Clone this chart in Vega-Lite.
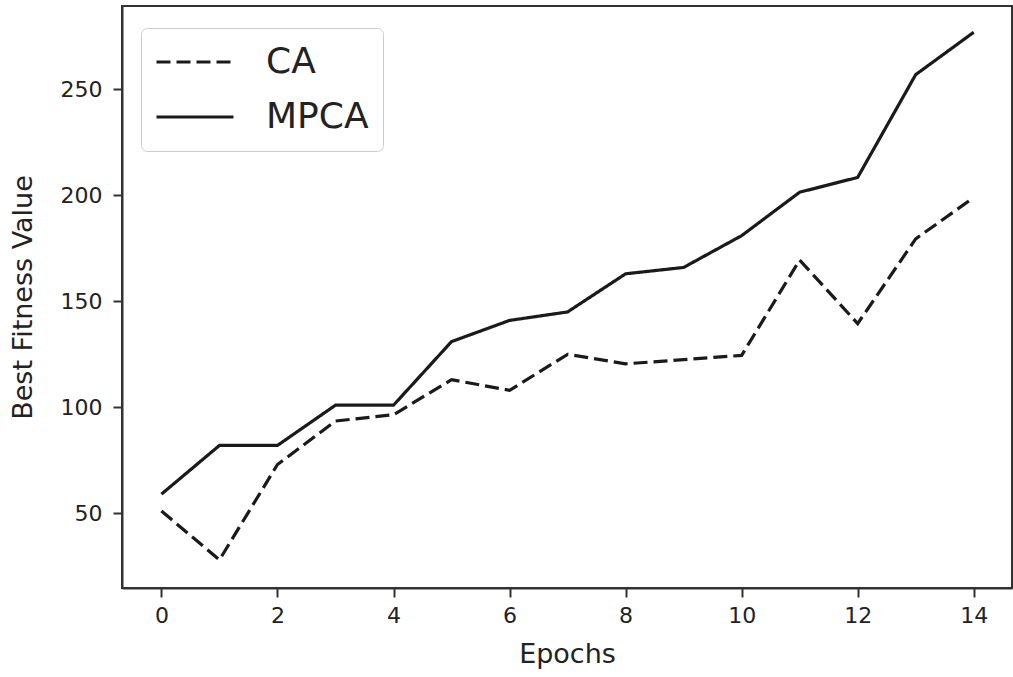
{
  "$schema": "https://vega.github.io/schema/vega-lite/v6.json",
  "autosize": {"type": "none"},
  "padding": {"left": 122, "top": 6, "right": 1, "bottom": 89},
  "width": 890,
  "height": 582,
  "background": "white",
  "config": {
    "font": "DejaVu Sans",
    "view": {"stroke": "#333333", "strokeWidth": 2},
    "axis": {
      "grid": false,
      "domainColor": "#333333",
      "domainWidth": 2,
      "tickColor": "#333333",
      "tickWidth": 2,
      "tickSize": 9,
      "labelColor": "#222222",
      "labelFont": "DejaVu Sans",
      "labelFontSize": 22,
      "titleColor": "#222222",
      "titleFont": "DejaVu Sans",
      "titleFontSize": 27,
      "titleFontWeight": "normal"
    }
  },
  "data": {
    "values": [
      {"epoch": 0, "method": "CA", "fitness": 51},
      {"epoch": 1, "method": "CA", "fitness": 28},
      {"epoch": 2, "method": "CA", "fitness": 73},
      {"epoch": 3, "method": "CA", "fitness": 93.5},
      {"epoch": 4, "method": "CA", "fitness": 96.5},
      {"epoch": 5, "method": "CA", "fitness": 113},
      {"epoch": 6, "method": "CA", "fitness": 108},
      {"epoch": 7, "method": "CA", "fitness": 125},
      {"epoch": 8, "method": "CA", "fitness": 120.5},
      {"epoch": 9, "method": "CA", "fitness": 122.5},
      {"epoch": 10, "method": "CA", "fitness": 124.5},
      {"epoch": 11, "method": "CA", "fitness": 169.5},
      {"epoch": 12, "method": "CA", "fitness": 139.5},
      {"epoch": 13, "method": "CA", "fitness": 179.5},
      {"epoch": 14, "method": "CA", "fitness": 199},
      {"epoch": 0, "method": "MPCA", "fitness": 59},
      {"epoch": 1, "method": "MPCA", "fitness": 82},
      {"epoch": 2, "method": "MPCA", "fitness": 82},
      {"epoch": 3, "method": "MPCA", "fitness": 101},
      {"epoch": 4, "method": "MPCA", "fitness": 101},
      {"epoch": 5, "method": "MPCA", "fitness": 131},
      {"epoch": 6, "method": "MPCA", "fitness": 141},
      {"epoch": 7, "method": "MPCA", "fitness": 145},
      {"epoch": 8, "method": "MPCA", "fitness": 163},
      {"epoch": 9, "method": "MPCA", "fitness": 166},
      {"epoch": 10, "method": "MPCA", "fitness": 181},
      {"epoch": 11, "method": "MPCA", "fitness": 201.5},
      {"epoch": 12, "method": "MPCA", "fitness": 208.5},
      {"epoch": 13, "method": "MPCA", "fitness": 257},
      {"epoch": 14, "method": "MPCA", "fitness": 277}
    ]
  },
  "mark": {"type": "line", "color": "#1a1a1a", "strokeWidth": 3.2, "clip": true},
  "encoding": {
    "x": {
      "field": "epoch",
      "type": "quantitative",
      "scale": {"domain": [-0.68, 14.66], "nice": false, "zero": false},
      "axis": {
        "title": "Epochs",
        "values": [0, 2, 4, 6, 8, 10, 12, 14],
        "labelPadding": 8,
        "titlePadding": 15
      }
    },
    "y": {
      "field": "fitness",
      "type": "quantitative",
      "scale": {"domain": [14.7, 289.4], "nice": false, "zero": false},
      "axis": {
        "title": "Best Fitness Value",
        "values": [50, 100, 150, 200, 250],
        "labelPadding": 11,
        "titlePadding": 23
      }
    },
    "strokeDash": {
      "field": "method",
      "type": "nominal",
      "scale": {"domain": ["CA", "MPCA"], "range": [[14, 6], [1, 0]]},
      "legend": {
        "title": null,
        "orient": "none",
        "legendX": 19,
        "legendY": 22,
        "symbolType": "stroke",
        "symbolSize": 5929,
        "symbolStrokeWidth": 3,
        "symbolStrokeColor": "#1a1a1a",
        "clipHeight": 40,
        "rowPadding": 15,
        "labelOffset": 31,
        "labelFont": "DejaVu Sans",
        "labelFontSize": 36,
        "labelColor": "#222222",
        "padding": 14,
        "fillColor": "rgba(255,255,255,0.9)",
        "strokeColor": "#cccccc",
        "cornerRadius": 6
      }
    }
  }
}
